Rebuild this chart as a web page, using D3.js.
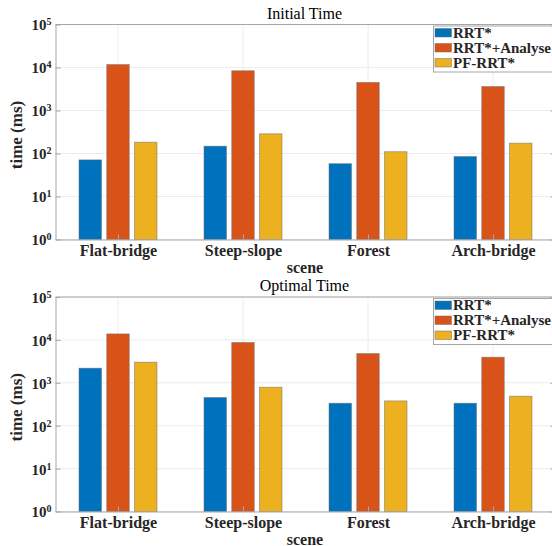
<!DOCTYPE html>
<html>
<head>
<meta charset="utf-8">
<script src="https://cdn.jsdelivr.net/npm/d3@7"></script>
<style>
  body { margin: 0; background: #fff; }
  svg { display: block; }
  text { font-family: "Liberation Serif", "Times New Roman", serif; }
</style>
</head>
<body>
<svg width="552" height="546"></svg>
<script>
// data (ms)
const scenes = ["Flat-bridge", "Steep-slope", "Forest", "Arch-bridge"];
const methods = ["RRT*", "RRT*+Analyse", "PF-RRT*"];
const colors = ["#0072BD", "#D95319", "#EDB120"];

const initialRRT = [71, 148, 58, 85];
const initialAnalyse = [11700, 8400, 4500, 3600];
const initialPF = [183, 287, 110, 174];

const optimalRRT = [2190, 454, 334, 334];
const optimalAnalyse = [13800, 8700, 4800, 3950];
const optimalPF = [3020, 789, 378, 487];

const decades = [1, 10, 100, 1000, 10000, 100000];

const svg = d3.select("svg");
const left = 55.5, right = 555.5;
const serif = "Liberation Serif";

function drawPanel(title, series, top, bottom) {
  const g = svg.append("g");

  const x = d3.scaleLinear().domain([-0.5, scenes.length - 0.5]).range([left, right]);
  const xs = d3.scaleBand().domain(d3.range(methods.length)).range([-39, 39]).paddingInner(0.19);
  const y = d3.scaleLog().domain([1, 1e5]).range([bottom, top]);

  // grid
  g.append("g").selectAll("line").data(decades).enter().append("line")
    .attr("x1", left).attr("x2", right)
    .attr("y1", d => y(d)).attr("y2", d => y(d))
    .attr("stroke", "#ececec");
  g.append("g").selectAll("line").data(scenes).enter().append("line")
    .attr("x1", (d, i) => x(i)).attr("x2", (d, i) => x(i))
    .attr("y1", top).attr("y2", bottom)
    .attr("stroke", "#ececec");

  // bars
  series.forEach((vals, s) => {
    g.append("g").selectAll("rect").data(vals).enter().append("rect")
      .attr("x", (d, i) => x(i) + xs(s))
      .attr("width", xs.bandwidth())
      .attr("y", d => y(d))
      .attr("height", d => bottom - y(d))
      .attr("fill", colors[s])
      .attr("stroke", "#6b6b6b")
      .attr("stroke-opacity", 0.6)
      .attr("stroke-width", 0.8);
  });

  // box top
  g.append("line").attr("x1", left).attr("x2", right).attr("y1", top).attr("y2", top).attr("stroke", "#a6a6a6");

  // y axis
  const yAxis = d3.axisLeft(y).tickValues(decades).tickFormat("").tickSizeInner(-5).tickSizeOuter(0);
  const ya = g.append("g").attr("transform", "translate(" + left + ",0)").call(yAxis)
    .attr("font-family", null).attr("font-size", null);
  ya.selectAll("path, line").attr("stroke", "#a6a6a6");
  ya.selectAll(".tick").append("text")
    .attr("x", -4).attr("dy", "0.36em")
    .attr("text-anchor", "end")
    .attr("fill", "#262626")
    .attr("font-family", serif).attr("font-size", 15).attr("font-weight", "bold")
    .each(function(d) {
      const t = d3.select(this);
      t.append("tspan").text("10");
      t.append("tspan").attr("dy", "-0.5em").attr("font-size", 10).text(Math.round(Math.log10(d)));
    });

  // right side ticks
  const yr = g.append("g").attr("transform", "translate(" + right + ",0)")
    .call(d3.axisRight(y).tickValues(decades).tickFormat("").tickSizeInner(-5).tickSizeOuter(0));
  yr.selectAll("path, line").attr("stroke", "#a6a6a6");

  // x axis
  const xAxis = d3.axisBottom(x).tickValues(d3.range(scenes.length)).tickFormat(i => scenes[i])
    .tickSizeInner(-5).tickSizeOuter(0).tickPadding(5);
  const xa = g.append("g").attr("transform", "translate(0," + bottom + ")").call(xAxis)
    .attr("font-family", serif).attr("font-size", 16).attr("font-weight", "bold");
  xa.selectAll("path, line").attr("stroke", "#a6a6a6");
  xa.selectAll("text").attr("fill", "#262626");

  // labels
  g.append("text").attr("x", 304.5).attr("y", top - 6)
    .attr("text-anchor", "middle").attr("font-family", serif).attr("font-size", 16)
    .attr("fill", "#000").text(title);
  g.append("text").attr("x", 305).attr("y", bottom + 33)
    .attr("text-anchor", "middle").attr("font-family", serif).attr("font-size", 16).attr("font-weight", "bold")
    .attr("fill", "#262626").text("scene");
  g.append("text").attr("transform", "translate(22," + ((top + bottom) / 2 + 3) + ") rotate(-90)")
    .attr("text-anchor", "middle").attr("font-family", serif).attr("font-size", 17).attr("font-weight", "bold")
    .attr("fill", "#262626").text("time (ms)");

  // legend
  const lg = g.append("g").attr("transform", "translate(433.5," + (top + 1.5) + ")");
  lg.append("rect").attr("x", 0).attr("y", 0).attr("width", 130).attr("height", 46)
    .attr("fill", "#fff").attr("stroke", "#a6a6a6");
  methods.forEach((m, i) => {
    lg.append("rect").attr("x", 1.5).attr("y", 2.5 + i * 15).attr("width", 16.5).attr("height", 8.5)
      .attr("fill", colors[i]).attr("stroke", "#6b6b6b").attr("stroke-opacity", 0.6).attr("stroke-width", 0.8);
    lg.append("text").attr("x", 19.5).attr("y", 11.5 + i * 15)
      .attr("font-family", serif).attr("font-size", 15).attr("font-weight", "bold")
      .attr("fill", "#262626").text(m);
  });
}

drawPanel("Initial Time", [initialRRT, initialAnalyse, initialPF], 24.5, 239.5);
drawPanel("Optimal Time", [optimalRRT, optimalAnalyse, optimalPF], 297, 511.5);
</script>
</body>
</html>
